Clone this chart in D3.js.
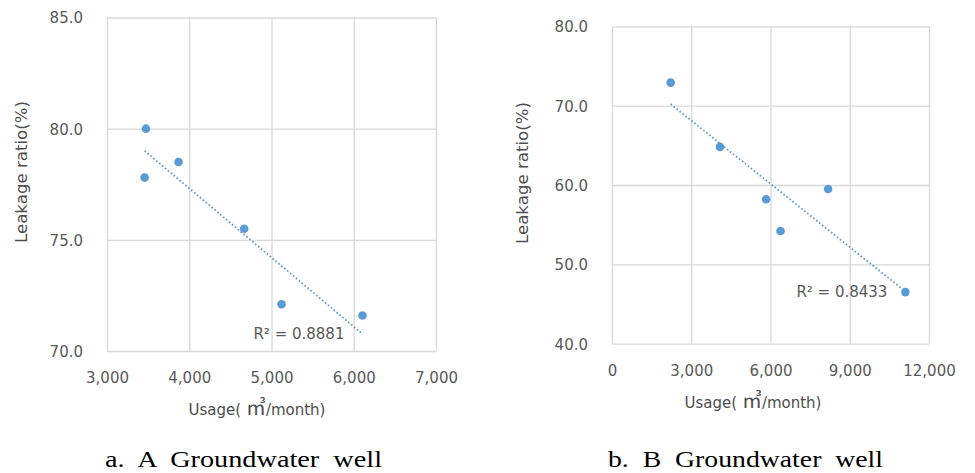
<!DOCTYPE html>
<html><head><meta charset="utf-8">
<script src="https://cdn.jsdelivr.net/npm/d3@7"></script>
<style>
html,body{margin:0;padding:0;background:#fff;}
svg{display:block;}
</style></head>
<body>
<script>
// ---- data ----
const usageA = [3474, 3457, 3870, 4668, 5122, 6106];
const leakA  = [80.0, 77.8, 78.5, 75.5, 72.1, 71.6];
const usageB = [2220, 4084, 5835, 6379, 8180, 11107];
const leakB  = [72.9, 64.8, 58.2, 54.2, 59.5, 46.5];
const xTicksA = [3000, 4000, 5000, 6000, 7000];
const yTicksA = [70, 75, 80, 85];
const xTicksB = [0, 3000, 6000, 9000, 12000];
const yTicksB = [40, 50, 60, 70, 80];
const r2A = "R\u00B2 = 0.8881";
const r2B = "R\u00B2 = 0.8433";
const xTitleParts = ["Usage( ", "\u33A5", "/month)"];
const yTitle = "Leakage ratio(%)";
const captionA = "a.  A  Groundwater  well";
const captionB = "b.  B  Groundwater  well";

const W = 975, H = 473;
const svg = d3.select("body").append("svg").attr("width", W).attr("height", H);

const BLUE = "#5b9bd5", GRID = "#d9d9d9", TICK = "#595959", TITLE = "#4d4d4d";
const FONT = "'DejaVu Sans', sans-serif";

function panel(cfg) {
  const g = svg.append("g");
  const x = d3.scaleLinear().domain(cfg.xDomain).range([cfg.left, cfg.right]);
  const y = d3.scaleLinear().domain(cfg.yDomain).range([cfg.bottom, cfg.top]);

  // gridlines via axes
  g.append("g").attr("transform", `translate(0,${cfg.bottom})`)
    .call(d3.axisBottom(x).tickValues(cfg.xTicks).tickSize(-(cfg.bottom - cfg.top)).tickFormat(""))
    .call(s => s.select(".domain").remove())
    .call(s => s.selectAll("line").attr("stroke", GRID).attr("stroke-width", 1.3));
  g.append("g").attr("transform", `translate(${cfg.left},0)`)
    .call(d3.axisLeft(y).tickValues(cfg.yTicks).tickSize(-(cfg.right - cfg.left)).tickFormat(""))
    .call(s => s.select(".domain").remove())
    .call(s => s.selectAll("line").attr("stroke", GRID).attr("stroke-width", 1.3));

  // tick labels
  g.append("g").attr("transform", `translate(0,${cfg.bottom + 32})`)
    .call(d3.axisBottom(x).tickValues(cfg.xTicks).tickSize(0).tickPadding(0).tickFormat(d3.format(",")))
    .call(s => s.select(".domain").remove())
    .call(s => s.selectAll("text").attr("dy", 0).attr("fill", TICK)
      .style("font-family", FONT).style("font-size", "15px"));
  g.append("g").attr("transform", `translate(${cfg.left - 24},0)`)
    .call(d3.axisLeft(y).tickValues(cfg.yTicks).tickSize(0).tickPadding(0).tickFormat(d3.format(".1f")))
    .call(s => s.select(".domain").remove())
    .call(s => s.selectAll("text").attr("dy", "0.36em").attr("fill", TICK)
      .style("font-family", FONT).style("font-size", "15px"));

  // trendline (least squares)
  const xs = cfg.xs, ys = cfg.ys;
  const mx = d3.mean(xs), my = d3.mean(ys);
  const sxy = d3.sum(xs, (v, i) => (v - mx) * (ys[i] - my));
  const sxx = d3.sum(xs, v => (v - mx) ** 2);
  const b = sxy / sxx, a = my - b * mx;
  const ext = d3.extent(xs);
  const line = d3.line().x(d => x(d)).y(d => y(a + b * d));
  g.append("path").attr("d", line(ext)).attr("fill", "none")
    .attr("stroke", BLUE).attr("stroke-width", 1.8)
    .attr("stroke-dasharray", "1.6,2.2");

  // points
  g.selectAll("circle.pt").data(xs.map((v, i) => [v, ys[i]])).join("circle")
    .attr("class", "pt").attr("cx", d => x(d[0])).attr("cy", d => y(d[1]))
    .attr("r", 4.3).attr("fill", BLUE);

  // R² label
  g.append("text").attr("x", x(ext[1]) - 18).attr("y", y(a + b * ext[1]) + 5)
    .attr("text-anchor", "end").attr("fill", TICK)
    .style("font-family", FONT).style("font-size", "15px").text(cfg.r2);

  // axis titles
  const xt = g.append("text").attr("x", cfg.xTitleX).attr("y", cfg.bottom + 64)
    .attr("text-anchor", "middle").attr("fill", TITLE)
    .style("font-family", FONT).style("font-size", "15px").style("white-space", "pre");
  xt.append("tspan").text(xTitleParts[0]);
  xt.append("tspan").style("font-family", "'Noto Sans CJK KR', sans-serif").style("font-size", "20px")
    .text(xTitleParts[1]);
  xt.append("tspan").text(xTitleParts[2]);

  g.append("text").attr("transform", `translate(${cfg.yTitleX},${cfg.yTitleY}) rotate(-90)`)
    .attr("text-anchor", "middle").attr("fill", TITLE)
    .attr("textLength", 142).attr("lengthAdjust", "spacingAndGlyphs")
    .style("font-family", FONT).style("font-size", "15px").text(yTitle);

  // caption
  g.append("text").attr("x", cfg.capX).attr("y", 467)
    .attr("fill", "#000").attr("textLength", cfg.capLen).attr("lengthAdjust", "spacingAndGlyphs")
    .style("white-space", "pre")
    .style("font-family", "'Liberation Serif', 'Times New Roman', serif").style("font-size", "24px")
    .text(cfg.caption);
}

panel({
  xs: usageA, ys: leakA, xTicks: xTicksA, yTicks: yTicksA,
  xDomain: [3000, 7000], yDomain: [70, 85],
  left: 107, right: 436, top: 17.5, bottom: 351,
  r2: r2A, xTitleX: 257, yTitleX: 27, yTitleY: 172,
  caption: captionA, capX: 105, capLen: 277
});
panel({
  xs: usageB, ys: leakB, xTicks: xTicksB, yTicks: yTicksB,
  xDomain: [0, 12000], yDomain: [40, 80],
  left: 612, right: 929, top: 26.3, bottom: 343.7,
  r2: r2B, xTitleX: 753, yTitleX: 528, yTitleY: 173,
  caption: captionB, capX: 608, capLen: 275
});
</script>
</body></html>
